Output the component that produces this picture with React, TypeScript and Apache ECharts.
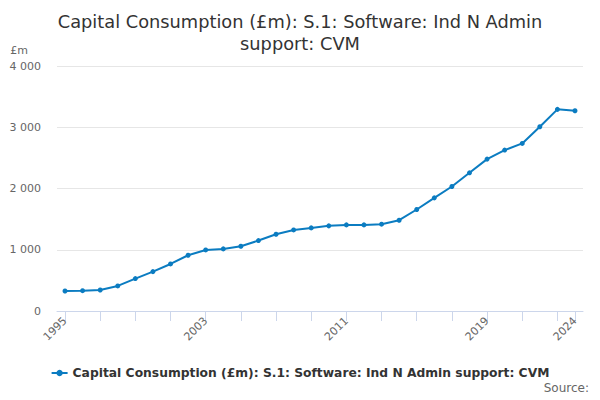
import * as echarts from 'echarts'
import { useEffect, useRef } from 'react'

const years = [
  1995, 1996, 1997, 1998, 1999, 2000, 2001, 2002, 2003, 2004,
  2005, 2006, 2007, 2008, 2009, 2010, 2011, 2012, 2013, 2014,
  2015, 2016, 2017, 2018, 2019, 2020, 2021, 2022, 2023, 2024
]

const values = [
  327, 332, 343, 409, 529, 643, 768, 910, 997, 1014,
  1057, 1150, 1253, 1324, 1357, 1390, 1406, 1406, 1417, 1482,
  1657, 1847, 2033, 2256, 2480, 2627, 2736, 3008, 3292, 3270
]

const xLabelYears = [1995, 2003, 2011, 2019, 2024]
const xTickYears = [1995, 1997, 1999, 2001, 2003, 2005, 2007, 2009, 2011, 2013, 2015, 2017, 2019, 2021, 2023, 2024]
const yTicks = [0, 1000, 2000, 3000, 4000]

const seriesName = 'Capital Consumption (£m): S.1: Software: Ind N Admin support: CVM'
const titleText = 'Capital Consumption (£m): S.1: Software: Ind N Admin\nsupport: CVM'

const font = '"DejaVu Sans", sans-serif'

export default function App() {
  const chartRef = useRef<HTMLDivElement>(null)

  useEffect(() => {
    if (!chartRef.current) return
    const chart = echarts.init(chartRef.current, null, { renderer: 'svg' })

    const option = {
      animation: false,
      textStyle: { fontFamily: font },
      title: {
        text: titleText,
        left: 'center',
        top: 5,
        textStyle: { fontSize: 17.8, fontWeight: 'normal', color: '#333', lineHeight: 22, fontFamily: font }
      },
      grid: { left: 57, right: 17, top: 66, bottom: 89 },
      legend: {
        top: 362,
        left: 'center',
        itemWidth: 16,
        itemHeight: 8,
        itemGap: 6,
        textStyle: { fontSize: 12.3, fontWeight: 'bold', color: '#333', fontFamily: font },
        data: [seriesName]
      },
      graphic: [
        {
          type: 'text',
          right: 11,
          top: 382,
          style: { text: 'Source:', fontSize: 12, fill: '#666', fontFamily: font }
        }
      ],
      xAxis: {
        type: 'value',
        min: 1994.545,
        max: 2024.455,
        splitLine: { show: false },
        axisLine: { show: true, lineStyle: { color: '#ccd6eb' } },
        axisTick: {
          show: true,
          length: 10,
          lineStyle: { color: '#ccd6eb', width: 1 },
          customValues: xTickYears
        },
        axisLabel: {
          rotate: 45,
          fontSize: 11,
          color: '#666',
          margin: 8,
          customValues: xLabelYears,
          formatter: (v: number) => String(v)
        }
      },
      yAxis: {
        type: 'value',
        min: yTicks[0],
        max: yTicks[yTicks.length - 1],
        interval: 1000,
        name: '£m',
        nameGap: 10,
        nameTextStyle: { align: 'right', padding: [0, 29, 0, 0], fontSize: 11, color: '#666', fontFamily: font },
        axisLine: { show: false },
        axisTick: { show: false },
        splitLine: { lineStyle: { color: '#e6e6e6' } },
        axisLabel: {
          fontSize: 11,
          color: '#666',
          margin: 16,
          formatter: (v: number) => String(v).replace(/\B(?=(\d{3})+(?!\d))/g, ' ')
        }
      },
      series: [
        {
          name: seriesName,
          type: 'line',
          data: years.map((y, i) => [y, values[i]]),
          symbol: 'circle',
          symbolSize: 5,
          lineStyle: { width: 2, color: '#0b7cc1' },
          itemStyle: { color: '#0b7cc1' }
        }
      ]
    }

    chart.setOption(option)
    return () => chart.dispose()
  }, [])

  return <div ref={chartRef} style={{ width: 600, height: 400, margin: -8 }} />
}
